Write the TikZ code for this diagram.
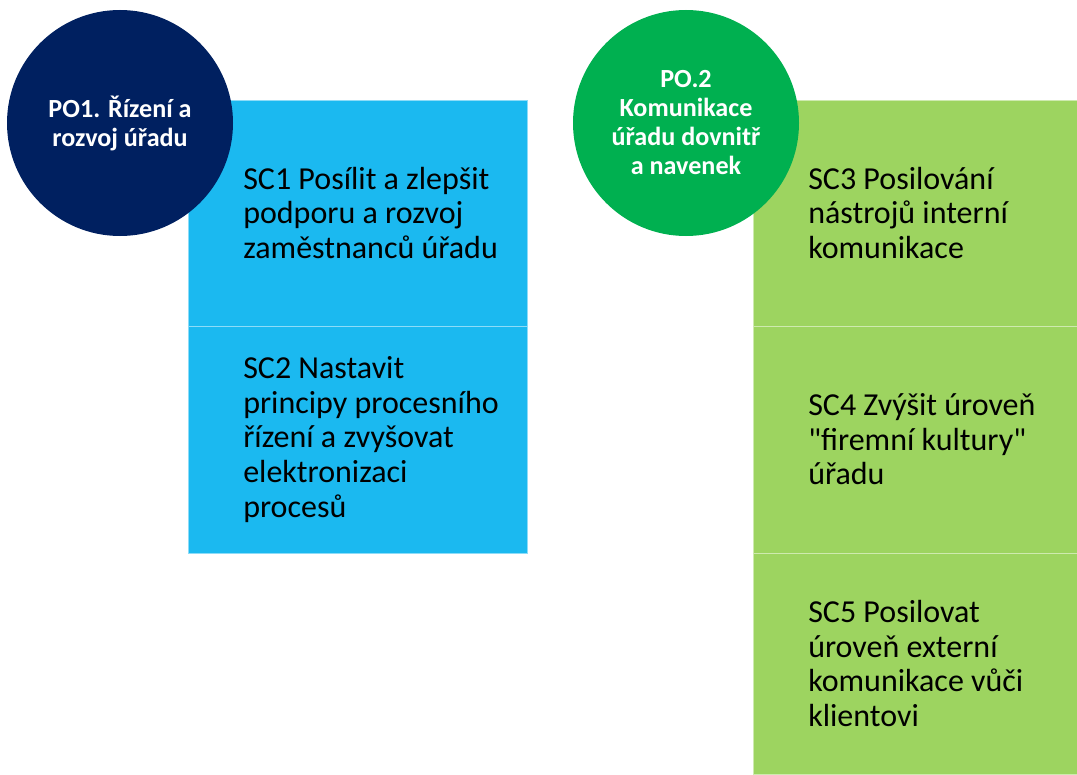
\documentclass[tikz,border=0pt]{standalone}
\usepackage{fontspec}
\setmainfont{Carlito}
\definecolor{navy}{HTML}{002060}
\definecolor{greencirc}{HTML}{00B050}
\definecolor{bluebox}{HTML}{1BB9F0}
\definecolor{greenbox}{HTML}{9DD460}
\tikzset{
  boxb/.style={rectangle, inner sep=0pt, outer sep=0pt, fill=bluebox, draw=bluebox!50!white, line width=0.7pt, minimum width=254.25pt},
  boxg/.style={rectangle, inner sep=0pt, outer sep=0pt, fill=greenbox, draw=greenbox!50!white, line width=0.7pt, minimum width=243pt},
  boxtext/.style={anchor=west, align=left, inner sep=0pt, text=black, font=\fontsize{24}{25.9}\selectfont},
  po/.style={circle, inner sep=0pt, minimum size=169.5pt, text=white, align=center, font=\bfseries\fontsize{19.6}{21.75}\selectfont},
}
\begin{document}
\begin{tikzpicture}[x=0.75pt,y=-0.75pt]
\useasboundingbox (0,0) rectangle (1077,774);
% blue boxes
\node[boxb, minimum height=169.5pt] (b1) at (357.5,213) {};
\node[boxb, minimum height=170.25pt] (b2) at (357.5,439.5) {};
% green boxes
\node[boxg, minimum height=169.5pt] (g1) at (915,213) {};
\node[boxg, minimum height=170.25pt] (g2) at (915,439.5) {};
\node[boxg, minimum height=165.75pt] (g3) at (915,663.5) {};
% texts
\node[boxtext] (t1) at ([xshift=41.25pt]b1.west) {SC1 Posílit a zlepšit\\podporu a rozvoj\\zaměstnanců úřadu};
\node[boxtext] (t2) at ([xshift=41.25pt]b2.west) {SC2 Nastavit\\principy procesního\\řízení a zvyšovat\\elektronizaci\\procesů};
\node[boxtext] (t3) at ([xshift=41.25pt]g1.west) {SC3 Posilování\\nástrojů interní\\komunikace};
\node[boxtext] (t4) at ([xshift=41.25pt]g2.west) {SC4 Zvýšit úroveň\\\textquotedbl firemní kultury\textquotedbl\\úřadu};
\node[boxtext] (t5) at ([xshift=41.25pt]g3.west) {SC5 Posilovat\\úroveň externí\\komunikace vůči\\klientovi};
% circles
\node[po, fill=navy] (po1) at (120,123) {PO1. Řízení a\\rozvoj úřadu};
\node[po, fill=greencirc] (po2) at (686,123) {PO.2\\Komunikace\\úřadu dovnitř\\a navenek};
\end{tikzpicture}
\end{document}
